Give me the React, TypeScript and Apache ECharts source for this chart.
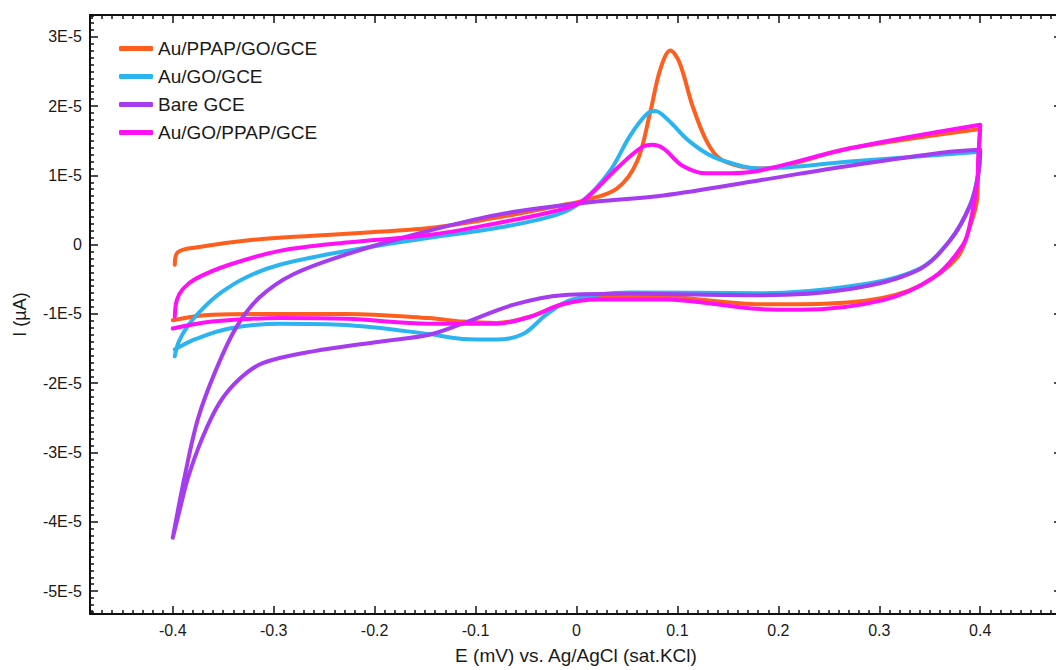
import React, { useEffect, useRef } from "react";
import * as echarts from "echarts";

// Potential (V) and current (units of 1E-5 A)
const seriesNames = ["Au/PPAP/GO/GCE", "Au/GO/GCE", "Bare GCE", "Au/GO/PPAP/GCE"];
const seriesColors = ["#FF5F1E", "#2CB4F0", "#A53CF0", "#FF10F5"];

const auPpapGoE = [
  -0.398, -0.395, -0.377, -0.327, -0.261, -0.146, -0.079, -0.014, 0.006, 0.040, 0.060, 0.073, 0.083, 0.093,
  0.102, 0.115, 0.129, 0.142, 0.162, 0.182, 0.271, 0.400,
  0.398, 0.397, 0.390, 0.377, 0.338, 0.291, 0.221, 0.182, 0.086, 0.020, -0.014, -0.046, -0.079, -0.113,
  -0.146, -0.228, -0.294, -0.361, -0.400,
];
const auPpapGoI = [
  -0.29, -0.11, -0.04, 0.06, 0.13, 0.24, 0.39, 0.57, 0.63, 0.81, 1.2, 1.91, 2.53, 2.8,
  2.63, 2.0, 1.49, 1.24, 1.13, 1.1, 1.39, 1.67,
  1.17, 0.67, 0.27, -0.19, -0.61, -0.8, -0.86, -0.86, -0.76, -0.76, -0.86, -1.04, -1.13, -1.11,
  -1.06, -1.0, -1.0, -1.01, -1.09,
];

const auGoE = [
  -0.398, -0.394, -0.385, -0.370, -0.352, -0.327, -0.294, -0.228, -0.146, -0.079, -0.020, 0.006, 0.033, 0.053, 0.070,
  0.078, 0.090, 0.112, 0.135, 0.165, 0.182, 0.271, 0.400,
  0.398, 0.390, 0.370, 0.338, 0.271, 0.182, 0.053, -0.004, -0.029, -0.053, -0.079, -0.113, -0.146,
  -0.228, -0.294, -0.344, -0.377, -0.398,
];
const auGoI = [
  -1.61, -1.40, -1.17, -0.92, -0.69, -0.47, -0.29, -0.09, 0.1, 0.24, 0.43, 0.63, 1.06, 1.57, 1.89,
  1.93, 1.81, 1.49, 1.27, 1.13, 1.1, 1.2, 1.34,
  1.03, 0.57, 0.06, -0.36, -0.6, -0.7, -0.69, -0.79, -1.0, -1.29, -1.37, -1.36, -1.29,
  -1.16, -1.14, -1.21, -1.36, -1.51,
];

const bareE = [
  -0.400, -0.388, -0.375, -0.357, -0.337, -0.314, -0.281, -0.228, -0.162, -0.079, 0.006, 0.086, 0.182,
  0.271, 0.370, 0.400,
  0.398, 0.390, 0.370, 0.338, 0.271, 0.182, 0.053, -0.014, -0.063, -0.113, -0.146, -0.195, -0.261,
  -0.311, -0.334, -0.354, -0.371, -0.385, -0.395, -0.400,
];
const bareI = [
  -4.23, -3.33, -2.51, -1.8, -1.19, -0.76, -0.43, -0.14, 0.14, 0.43, 0.6, 0.71, 0.93,
  1.14, 1.34, 1.37,
  1.0, 0.57, 0.06, -0.37, -0.64, -0.73, -0.71, -0.73, -0.87, -1.14, -1.3, -1.4, -1.54,
  -1.71, -1.94, -2.29, -2.8, -3.37, -3.94, -4.23,
];

const auGoPpapE = [
  -0.398, -0.396, -0.390, -0.377, -0.344, -0.294, -0.228, -0.146, -0.079, -0.020, 0.006, 0.040, 0.063, 0.075,
  0.086, 0.105, 0.129, 0.152, 0.182, 0.271, 0.400,
  0.398, 0.397, 0.390, 0.383, 0.354, 0.304, 0.221, 0.182, 0.086, 0.020, -0.014, -0.046, -0.079,
  -0.146, -0.228, -0.294, -0.361, -0.400,
];
const auGoPpapI = [
  -1.04, -0.80, -0.64, -0.49, -0.29, -0.09, 0.03, 0.14, 0.31, 0.49, 0.63, 1.1, 1.39, 1.44,
  1.39, 1.14, 1.03, 1.03, 1.07, 1.39, 1.73,
  1.24, 0.91, 0.31, 0.0, -0.47, -0.8, -0.94, -0.93, -0.79, -0.79, -0.86, -1.04, -1.14,
  -1.14, -1.07, -1.06, -1.11, -1.21,
];

const potentials = [auPpapGoE, auGoE, bareE, auGoPpapE];
const currents = [auPpapGoI, auGoI, bareI, auGoPpapI];

const xTitle = "E (mV) vs. Ag/AgCl (sat.KCl)";
const yTitle = "I (\u00B5A)";

const FONT = "'Liberation Sans', Arial, Helvetica, sans-serif";

export default function App() {
  const ref = useRef<HTMLDivElement>(null);

  useEffect(() => {
    if (!ref.current) return;
    const chart = echarts.init(ref.current, undefined, { renderer: "svg" });

    const xRange = { min: -0.482, max: 0.481 };
    const yRange = { min: -5.33, max: 3.314 };

    const tickStyle = { color: "#111", width: 1.5 };
    const baseX = {
      type: "value" as const,
      ...xRange,
      splitNumber: 10,
      splitLine: { show: false },
      axisLine: { show: true, onZero: false, lineStyle: { color: "#111", width: 2 } },
      axisTick: { show: true, inside: true, length: 8, lineStyle: tickStyle },
      minorTick: { show: true, splitNumber: 10, length: 4, lineStyle: tickStyle },
    };
    const baseY = {
      type: "value" as const,
      ...yRange,
      splitNumber: 9,
      splitLine: { show: false },
      axisLine: { show: true, onZero: false, lineStyle: { color: "#111", width: 2 } },
      axisTick: { show: true, inside: true, length: 8, lineStyle: tickStyle },
      minorTick: { show: true, splitNumber: 10, length: 4, lineStyle: tickStyle },
    };

    chart.setOption({
      animation: false,
      backgroundColor: "#ffffff",
      textStyle: { fontFamily: FONT },
      grid: { left: 90, right: 0, top: 15, bottom: 50, containLabel: false },
      legend: {
        show: true,
        orient: "vertical",
        left: 114,
        top: 34,
        icon: "roundRect",
        itemWidth: 34,
        itemHeight: 5,
        itemGap: 9,
        data: seriesNames,
        textStyle: { fontFamily: FONT, fontSize: 19, color: "#1a1a1a" },
      },
      xAxis: [
        {
          ...baseX,
          position: "bottom",
          name: xTitle,
          nameLocation: "middle",
          nameGap: 32,
          nameTextStyle: { fontFamily: FONT, fontSize: 19, color: "#1a1a1a" },
          axisLabel: {
            show: true,
            fontFamily: FONT,
            fontSize: 16,
            color: "#1a1a1a",
            margin: 8,
            showMinLabel: false,
            showMaxLabel: false,
          },
        },
        { ...baseX, position: "top", axisLabel: { show: false } },
      ],
      yAxis: [
        {
          ...baseY,
          position: "left",
          name: yTitle,
          nameLocation: "middle",
          nameGap: 61,
          nameTextStyle: { fontFamily: FONT, fontSize: 18, color: "#1a1a1a" },
          axisLabel: {
            show: true,
            fontFamily: FONT,
            fontSize: 16,
            color: "#1a1a1a",
            margin: 8,
            showMinLabel: false,
            showMaxLabel: false,
            formatter: (v: number) => {
              const k = Math.round(v);
              return k === 0 ? "0" : `${k}E-5`;
            },
          },
        },
        { ...baseY, position: "right", axisLabel: { show: false } },
      ],
      series: seriesNames.map((name, i) => ({
        name,
        type: "line",
        xAxisIndex: 0,
        yAxisIndex: 0,
        showSymbol: false,
        symbol: "none",
        smooth: 0.35,
        color: seriesColors[i],
        lineStyle: { color: seriesColors[i], width: 4, cap: "round", join: "round" },
        data: potentials[i].map((e, j) => [e, currents[i][j]]),
      })),
    });

    return () => chart.dispose();
  }, []);

  // The chart is 6px wider than the window so that its right-hand frame falls just outside, as in the reference
  return (
    <div
      ref={ref}
      style={{ position: "fixed", left: 0, top: 0, width: 1062, height: 670, background: "#fff" }}
    />
  );
}
